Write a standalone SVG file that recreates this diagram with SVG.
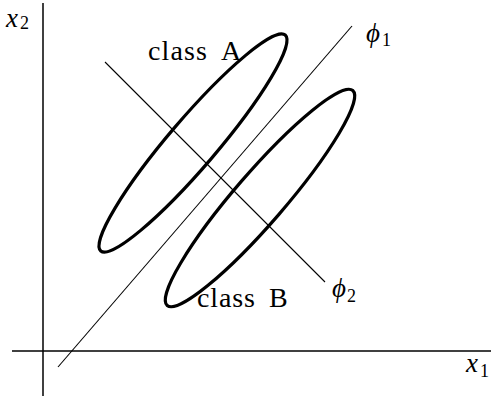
<svg xmlns="http://www.w3.org/2000/svg" width="491" height="400" viewBox="0 0 491 400">
<style>
.axis{stroke:#000;stroke-width:1.5;fill:none}
.thin{stroke:#000;stroke-width:1.1;fill:none}
.ell{stroke:#000;stroke-width:3.2;fill:none}
.lbl{font-family:"Liberation Serif","Times New Roman",serif;font-size:28px;fill:#000}
.math{font-family:"Liberation Serif","Times New Roman",serif;font-style:italic;font-size:27px;fill:#000}
.sub{font-family:"Liberation Serif","Times New Roman",serif;font-size:18px;fill:#000}
</style>
<rect width="491" height="400" fill="#fff"/>
<g id="connectors">
<line class="axis" x1="12" y1="351" x2="491" y2="351"/>
<line class="axis" x1="43" y1="3" x2="43" y2="396"/>
<line class="thin" x1="58" y1="367" x2="352" y2="26"/>
<line class="thin" x1="105" y1="62" x2="325" y2="282"/>
</g>
<g id="classA">
<ellipse class="ell" cx="193" cy="143" rx="142" ry="24" transform="rotate(-49.5 193 143)"/>
<text class="lbl" x="148" y="60" textLength="59" lengthAdjust="spacing">class</text>
<text class="lbl" x="221" y="60">A</text>
</g>
<g id="classB">
<ellipse class="ell" cx="260" cy="198" rx="142" ry="25" transform="rotate(-49.2 260 198)"/>
<text class="lbl" x="197" y="307" textLength="58" lengthAdjust="spacing">class</text>
<text class="lbl" x="269" y="307">B</text>
</g>
<g id="x2label"><text class="math" x="6" y="27">x</text><text class="sub" x="20" y="29">2</text></g>
<g id="x1label"><text class="math" x="466" y="372">x</text><text class="sub" x="480" y="377">1</text></g>
<g id="phi1label"><text class="math" x="366" y="42" font-size="24">ϕ</text><text class="sub" x="382" y="46">1</text></g>
<g id="phi2label"><text class="math" x="332" y="297" font-size="24">ϕ</text><text class="sub" x="347" y="302">2</text></g>
</svg>
